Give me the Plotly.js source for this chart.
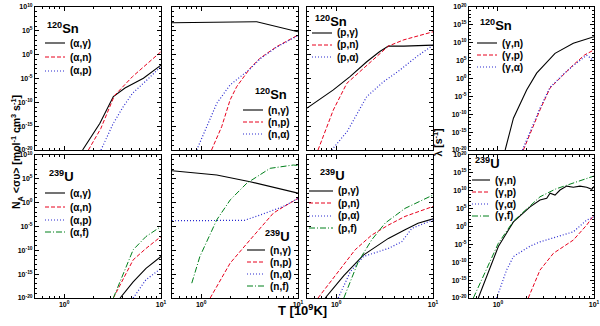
<!DOCTYPE html>
<html lang="en">
<head>
  <meta charset="UTF-8" />
  <title>Reaction rates 120Sn / 239U</title>
  <script src="https://cdn.plot.ly/plotly-3.0.1.min.js"></script>
  <style>
    body { margin: 0; background: #fff; }
    #chart { width: 600px; height: 326px; }
  </style>
</head>
<body>
<div id="chart"></div>
<script>
  // ---- data (T in 10^9 K) ----
  // 120Sn, alpha induced
  const T_snA_g = [1.55, 2.34, 3.22, 4.25, 6.58, 10];
  const snA_g   = [1e-20, 4e-15, 1.6e-9, 1e-7, 1.1e-5, 6.3e-3];
  const T_snA_n = [1.78, 2.39, 3.3, 5.08, 10];
  const snA_n   = [1e-20, 3.2e-16, 2.5e-9, 2.5e-5, 4.3];
  const T_snA_p = [2.4, 3.2, 4.08, 5.08, 7, 10];
  const snA_p   = [1e-20, 3.2e-15, 1.3e-11, 7.9e-9, 3.2e-6, 3.2e-3];

  // 120Sn, neutron induced
  const T_snN_g = [0.5, 1, 2, 3.75, 10];
  const snN_g   = [5e6, 5.6e6, 6.3e6, 7.9e6, 6.3e4];
  const T_snN_p = [1.28, 1.63, 1.99, 2.33, 3.2, 4.05, 6.04, 10];
  const snN_p   = [1e-20, 7.9e-16, 3.2e-10, 2e-7, 1.4e-3, 0.18, 50, 1.3e4];
  const T_snN_a = [0.9, 1.14, 1.45, 1.99, 2.52, 3.2, 4.05, 6.04, 10];
  const snN_a   = [1e-20, 7.9e-16, 6.3e-11, 4.5e-7, 2.5e-5, 1e-3, 0.13, 40, 1e4];

  // 120Sn, proton induced
  const T_snP_g = [0.5, 0.935, 1.39, 2.07, 2.8, 3.46, 5, 10];
  const snP_g   = [6.3e-12, 4e-8, 2.5e-5, 3.2e-2, 4, 63, 63, 100];
  const T_snP_n = [0.65, 0.8, 0.935, 1.29, 2.07, 3.46, 5, 10];
  const snP_n   = [1e-20, 5e-16, 2.5e-12, 1e-6, 6.3e-3, 63, 1.3e3, 6.3e4];
  const T_snP_a = [0.9, 1.3, 2.07, 3.07, 4.57, 6.8, 10];
  const snP_a   = [1e-20, 7.9e-17, 1.6e-9, 2e-6, 6.3e-4, 0.4, 100];

  // 120Sn, photodisintegration
  const T_snG_n = [1.19, 1.45, 1.99, 2.53, 3.93, 6.09, 10];
  const snG_n   = [1e-20, 7.9e-12, 6.3e-4, 32, 1.1e7, 7.1e9, 5e11];
  const T_snG_p = [1.84, 2.74, 3.48, 4.79, 6.09, 8, 10];
  const snG_p   = [1e-20, 1.6e-9, 2e-3, 10, 6.3e3, 4e6, 1e8];
  const T_snG_a = [1.8, 2.74, 3.48, 4.79, 6.09, 8.4, 10];
  const snG_a   = [1e-20, 5e-9, 3.2e-3, 16, 4e3, 3.2e6, 1e5];

  // 239U, alpha induced
  const T_uA_g = [3.78, 5.16, 7, 10];
  const uA_g   = [1e-20, 2.5e-17, 1.6e-14, 5e-12];
  const T_uA_n = [3.22, 5.16, 7, 10];
  const uA_n   = [1e-20, 1e-12, 2.5e-10, 7.9e-8];
  const T_uA_p = [5.16, 6.97, 10];
  const uA_p   = [1e-20, 6.3e-17, 1.6e-14];
  const T_uA_f = [3.22, 5.16, 7, 10];
  const uA_f   = [1e-20, 1.3e-10, 7.9e-8, 1e-5];

  // 239U, neutron induced
  const T_uN_g = [0.5, 0.97, 1.45, 3.2, 10];
  const uN_g   = [5e6, 1.6e6, 6.3e5, 2.5e4, 100];
  const T_uN_p = [1.24, 1.99, 3.2, 5.56, 7.06, 10];
  const uN_p   = [1e-20, 2e-13, 1.6e-8, 6.3e-3, 0.13, 7.9];
  const T_uN_a = [0.5, 1, 2, 2.8, 4.05, 7.06, 10];
  const uN_a   = [1.6e-4, 1.6e-4, 1.6e-4, 2e-4, 2.5e-3, 0.16, 7.9];
  const T_uN_f = [0.8, 0.97, 1.45, 2.0, 2.96, 5.15, 8.95, 10];
  const uN_f   = [1.3e-17, 5e-12, 2.5e-4, 4, 1.2e4, 1.6e7, 7.9e7, 6.3e7];

  // 239U, proton induced
  const T_uP_g = [0.77, 1.2, 1.91, 3.46, 5.14, 7, 10];
  const uP_g   = [1e-20, 5e-16, 1e-11, 3.2e-8, 2e-6, 5e-5, 4e-4];
  const T_uP_n = [0.65, 1.05, 1.57, 2.33, 3.46, 5.14, 10];
  const uP_n   = [1e-20, 3.2e-15, 1.3e-10, 1.6e-7, 2e-5, 1.3e-3, 0.16];
  const T_uP_a = [1.05, 1.4, 1.91, 3.46, 4.75, 6.04, 10];
  const uP_a   = [1e-20, 3.2e-15, 5e-12, 2.5e-10, 6.3e-9, 4e-6, 2.5e-4];
  const T_uP_f = [1.2, 1.69, 2.33, 3.2, 5.14, 10];
  const uP_f   = [1e-20, 4e-13, 1.6e-8, 5e-5, 6.3e-2, 40];

  // 239U, photodisintegration
  const T_uG_n = [0.625, 0.83, 1.01, 1.45, 2.16, 2.74, 3.22, 3.49, 3.93, 4.43, 5.2, 6.09, 7.14, 8.39, 9.5, 10];
  const uG_n   = [1e-20, 2e-12, 2.5e-6, 20, 3.2e5, 2.5e7, 7.9e7, 2e9, 6.3e8, 1.6e10, 2e11, 1e11, 2e11, 1e11, 2.5e10, 1.6e11];
  const T_uG_p = [2.07, 2.74, 3.78, 6.09, 8.39, 10];
  const uG_p   = [1e-20, 6.3e-13, 3.2e-8, 1.6e-4, 2.5, 1.6e3];
  const T_uG_a = [0.97, 1.23, 1.45, 2.16, 2.74, 4.08, 6.09, 8.39, 10];
  const uG_a   = [1e-20, 6.3e-13, 4e-9, 3.2e-6, 5e-5, 1.6e-3, 3.2e-2, 63, 500];
  const T_uG_f = [0.555, 0.75, 1.01, 1.45, 2.16, 2.74, 4, 6.09, 10];
  const uG_f   = [1e-20, 5e-13, 2e-5, 32, 5e5, 2e8, 3.2e10, 1.3e12, 1.3e14];

  // tick labels
  const xTickVals = [1, 10];
  const xTickText = ['10<sup>0</sup>', '10<sup>1</sup>'];
  const yTickVals = [1e-20, 1e-15, 1e-10, 1e-5, 1, 1e5, 1e10, 1e15, 1e20];
  const yTickText = ['10<sup>-20</sup>', '10<sup>-15</sup>', '10<sup>-10</sup>', '10<sup>-5</sup>',
                     '10<sup>0</sup>', '10<sup>5</sup>', '10<sup>10</sup>', '10<sup>15</sup>', '10<sup>20</sup>'];
  const nuclides = ['<sup>120</sup>Sn', '<sup>239</sup>U'];

  const FONT = 'Liberation Sans, Arial, sans-serif';
  const styles = {
    g: { color: '#000000', dash: 'solid', width: 1.1 },
    n: { color: '#e8001c', dash: '4px,2px', width: 1 },
    p: { color: '#2a2ad0', dash: '1px,2px', width: 1.2 },
    f: { color: '#00801a', dash: '6px,2px,1px,2px', width: 1 }
  };

  function curve(x, y, name, st, k) {
    return {
      x: x, y: y, name: name, type: 'scatter', mode: 'lines',
      line: Object.assign({}, styles[st]), meta: { panel: k, st: st },
      xaxis: 'x' + (k === 1 ? '' : k), yaxis: 'y' + (k === 1 ? '' : k)
    };
  }

  const traces = [
    curve(T_snA_g, snA_g, '(α,γ)', 'g', 1),
    curve(T_snA_n, snA_n, '(α,n)', 'n', 1),
    curve(T_snA_p, snA_p, '(α,p)', 'p', 1),

    curve(T_snN_g, snN_g, '(n,γ)', 'g', 2),
    curve(T_snN_p, snN_p, '(n,p)', 'n', 2),
    curve(T_snN_a, snN_a, '(n,α)', 'p', 2),

    curve(T_snP_g, snP_g, '(p,γ)', 'g', 3),
    curve(T_snP_n, snP_n, '(p,n)', 'n', 3),
    curve(T_snP_a, snP_a, '(p,α)', 'p', 3),

    curve(T_snG_n, snG_n, '(γ,n)', 'g', 4),
    curve(T_snG_p, snG_p, '(γ,p)', 'n', 4),
    curve(T_snG_a, snG_a, '(γ,α)', 'p', 4),

    curve(T_uA_g, uA_g, '(α,γ)', 'g', 5),
    curve(T_uA_n, uA_n, '(α,n)', 'n', 5),
    curve(T_uA_p, uA_p, '(α,p)', 'p', 5),
    curve(T_uA_f, uA_f, '(α,f)', 'f', 5),

    curve(T_uN_g, uN_g, '(n,γ)', 'g', 6),
    curve(T_uN_p, uN_p, '(n,p)', 'n', 6),
    curve(T_uN_a, uN_a, '(n,α)', 'p', 6),
    curve(T_uN_f, uN_f, '(n,f)', 'f', 6),

    curve(T_uP_g, uP_g, '(p,γ)', 'g', 7),
    curve(T_uP_n, uP_n, '(p,n)', 'n', 7),
    curve(T_uP_a, uP_a, '(p,α)', 'p', 7),
    curve(T_uP_f, uP_f, '(p,f)', 'f', 7),

    curve(T_uG_n, uG_n, '(γ,n)', 'g', 8),
    curve(T_uG_p, uG_p, '(γ,p)', 'n', 8),
    curve(T_uG_a, uG_a, '(γ,α)', 'p', 8),
    curve(T_uG_f, uG_f, '(γ,f)', 'f', 8)
  ];

  // panel frames in pixels (left, right) and (top, bottom)
  const W = 600, H = 326;
  const cols = [[35, 161], [172, 298], [307, 433], [469, 594]];
  const rows = [[7, 150], [155, 298]];
  const px = v => v / W, py = v => 1 - v / H;

  const layout = {
    width: W, height: H,
    margin: { l: 0, r: 0, t: 0, b: 0 },
    showlegend: false,
    paper_bgcolor: '#fff', plot_bgcolor: '#fff',
    font: { family: FONT, color: '#000', weight: 'bold' },
    shapes: [],
    annotations: [
      { text: 'N<sub>A</sub> &lt;συ&gt; [mol<sup>-1</sup> cm<sup>3</sup> s<sup>-1</sup>]',
        x: px(7), y: py(152), xref: 'paper', yref: 'paper', showarrow: false,
        textangle: -90, font: { size: 10.5, family: FONT, weight: 'bold' } },
      { text: 'λ [s<sup>-1</sup>]',
        x: px(445), y: py(143), xref: 'paper', yref: 'paper', showarrow: false,
        textangle: -90, font: { size: 10.5, family: FONT, weight: 'bold' } },
      { text: 'T [10<sup>9</sup>K]',
        x: px(302), y: py(320), xref: 'paper', yref: 'paper', showarrow: false,
        font: { size: 13, family: FONT, weight: 'bold' } }
    ]
  };

  for (let k = 1; k <= 8; k++) {
    const c = (k - 1) % 4, r = k > 4 ? 1 : 0;
    const sfx = k === 1 ? '' : k;
    layout['xaxis' + sfx] = {
      type: 'log', range: [Math.log10(0.5), 1],
      domain: [px(cols[c][0]), px(cols[c][1])],
      anchor: 'y' + sfx,
      showgrid: false, zeroline: false,
      showline: true, linecolor: '#000', linewidth: 1, mirror: 'allticks',
      ticks: 'inside', ticklen: 4, tickcolor: '#000',
      tickmode: 'array', tickvals: xTickVals, ticktext: xTickText,
      showticklabels: r === 1,
      tickfont: { size: 7, family: FONT, weight: 'bold' },
      minor: { dtick: 'D1', ticks: 'inside', ticklen: 2, tickcolor: '#000' }
    };
    layout['yaxis' + sfx] = {
      type: 'log', range: c === 3 ? [-20, 20] : [-20, 10],
      domain: [py(rows[r][1]), py(rows[r][0])],
      anchor: 'x' + sfx,
      showgrid: false, zeroline: false,
      showline: true, linecolor: '#000', linewidth: 1, mirror: 'allticks',
      ticks: 'inside', ticklen: 4, tickcolor: '#000',
      tickmode: 'array', tickvals: yTickVals, ticktext: yTickText,
      showticklabels: c === 0 || c === 3,
      tickfont: { size: 7, family: FONT, weight: 'bold' },
      minor: { dtick: 1, ticks: 'inside', ticklen: 2, tickcolor: '#000' }
    };
  }

  // in-panel keys: nuclide label + one short sample line per curve
  const keys = [
    { k: 1, tx: 45,  ty: 28,  lx: 45,  len: 20, ys: [43, 57, 71] },
    { k: 2, tx: 253, ty: 94,  lx: 243, len: 20, ys: [110, 122, 134] },
    { k: 3, tx: 313, ty: 21,  lx: 312, len: 20, ys: [33, 45, 57] },
    { k: 4, tx: 478, ty: 25,  lx: 477, len: 20, ys: [43, 55, 67] },
    { k: 5, tx: 47,  ty: 176, lx: 45,  len: 20, ys: [193, 207, 220, 232] },
    { k: 6, tx: 263, ty: 236, lx: 247, len: 18, ys: [250, 262, 274, 286] },
    { k: 7, tx: 318, ty: 175, lx: 309, len: 24, ys: [191, 203, 216, 228] },
    { k: 8, tx: 473, ty: 163, lx: 472, len: 18, ys: [180, 192, 204, 216] }
  ];
  keys.forEach(key => {
    layout.annotations.push({
      text: nuclides[key.k > 4 ? 1 : 0], x: px(key.tx), y: py(key.ty),
      xref: 'paper', yref: 'paper', xanchor: 'left', yanchor: 'middle', showarrow: false,
      font: { size: 13, family: FONT, weight: 'bold' }
    });
    traces.filter(t => t.meta.panel === key.k).forEach((t, i) => {
      const y = key.ys[i];
      layout.shapes.push({
        type: 'line', xref: 'paper', yref: 'paper',
        x0: px(key.lx), x1: px(key.lx + key.len), y0: py(y), y1: py(y),
        line: Object.assign({}, styles[t.meta.st])
      });
      layout.annotations.push({
        text: t.name, x: px(key.lx + key.len + 3), y: py(y),
        xref: 'paper', yref: 'paper', xanchor: 'left', yanchor: 'middle', showarrow: false,
        font: { size: 10, family: FONT, weight: 'bold' }
      });
    });
  });

  Plotly.newPlot('chart', traces, layout, { staticPlot: true, displayModeBar: false });
</script>
</body>
</html>
